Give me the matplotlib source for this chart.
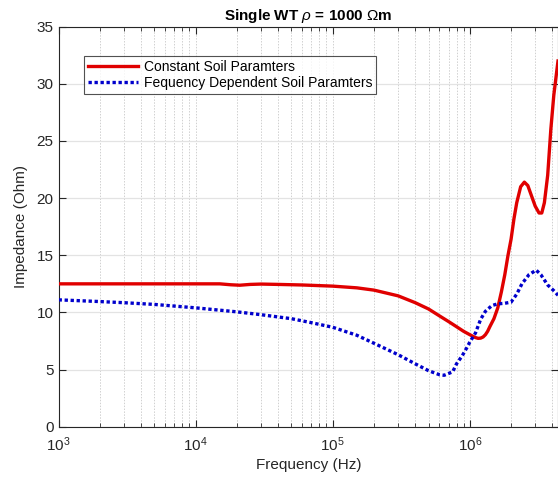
import matplotlib
matplotlib.use("Agg")
import matplotlib.pyplot as plt
from matplotlib.ticker import LogLocator, FixedLocator, NullFormatter

plt.rcParams['font.family'] = ['Liberation Sans', 'DejaVu Sans']
plt.rcParams['mathtext.fontset'] = 'custom'
plt.rcParams['mathtext.rm'] = 'Liberation Sans'
plt.rcParams['mathtext.it'] = 'Liberation Sans:italic'
plt.rcParams['mathtext.bf'] = 'Liberation Sans:bold'

# ---- data ----
freq_const = [1e3, 2e3, 5e3, 1e4, 1.5e4, 1.8e4, 2.1e4, 2.5e4, 3e4, 4e4, 6e4,
              1e5, 1.5e5, 2e5, 3e5, 4e5, 5e5, 6e5, 7e5, 8e5, 9e5, 1e6, 1.05e6,
              1.1e6, 1.15e6, 1.2e6, 1.25e6, 1.3e6, 1.35e6, 1.4e6, 1.5e6, 1.6e6,
              1.7e6, 1.8e6, 1.9e6, 2.0e6, 2.1e6, 2.2e6, 2.35e6, 2.5e6, 2.65e6,
              2.8e6, 3.0e6, 3.2e6, 3.35e6, 3.5e6, 3.7e6, 3.9e6, 4.1e6, 4.4e6]
z_const = [12.5, 12.5, 12.5, 12.5, 12.5, 12.42, 12.38, 12.45, 12.48, 12.45, 12.4,
           12.3, 12.15, 11.95, 11.45, 10.85, 10.3, 9.7, 9.2, 8.75, 8.35, 8.05, 7.92,
           7.8, 7.73, 7.75, 7.85, 8.05, 8.35, 8.75, 9.45, 10.4,
           11.8, 13.3, 15.0, 16.4, 18.2, 19.6, 21.0, 21.4, 21.1,
           20.3, 19.3, 18.7, 18.7, 19.6, 22.0, 26.0, 29.0, 32.0]

freq_fd = [1e3, 2e3, 3e3, 5e3, 1e4, 2e4, 3e4, 5e4, 7e4, 1e5, 1.5e5, 2e5, 3e5,
           4e5, 5e5, 6e5, 6.5e5, 7.5e5, 8e5, 8.8e5, 9.5e5, 1.0e6, 1.1e6, 1.2e6,
           1.3e6, 1.45e6, 1.6e6, 1.8e6, 2.0e6, 2.2e6, 2.4e6, 2.7e6, 3.05e6,
           3.3e6, 3.7e6, 4.1e6, 4.4e6]
z_fd = [11.1, 10.95, 10.85, 10.7, 10.4, 10.05, 9.8, 9.45, 9.1, 8.7, 8.0, 7.3, 6.3,
        5.5, 4.9, 4.55, 4.5, 4.8, 5.5, 6.2, 6.9, 7.4, 8.2, 9.4,
        10.1, 10.6, 10.75, 10.8, 10.9, 11.6, 12.5, 13.3, 13.7,
        13.3, 12.4, 11.9, 11.5]

y_ticks = [0, 5, 10, 15, 20, 25, 30, 35]
x_ticks = [1e3, 1e4, 1e5, 1e6]
labels = ['Constant Soil Paramters', 'Fequency Dependent Soil Paramters']

fig = plt.figure(figsize=(5.58, 4.84), dpi=100)
ax = fig.add_axes([0.105, 0.1184, 0.895, 0.8264])

axc = '#262626'
ax.plot(freq_const, z_const, color='#e00000', lw=2.4, label=labels[0],
        solid_joinstyle='round', zorder=3)
ax.plot(freq_fd, z_fd, color='#0000cc', lw=2.4, linestyle=(0, (1, 0.8)),
        dash_capstyle='butt', label=labels[1], zorder=3)

ax.set_xscale('log')
ax.set_xlim(1e3, 4.4e6)
ax.set_ylim(0, 35)
ax.set_yticks(y_ticks)
ax.xaxis.set_major_locator(FixedLocator(x_ticks))
ax.xaxis.set_minor_locator(LogLocator(base=10, subs=range(2, 10), numticks=20))
ax.xaxis.set_minor_formatter(NullFormatter())

ax.grid(True, which='major', axis='y', color='#e3e3e3', lw=0.9, linestyle='-')
ax.grid(True, which='both', axis='x', color='#d0d0d0', lw=0.7, linestyle=(0, (1.5, 1.5)))
ax.set_axisbelow(True)

ax.tick_params(which='both', direction='in', top=True, right=True, colors=axc,
               labelsize=11, labelcolor=axc)
ax.tick_params(which='major', length=5, width=0.8)
ax.tick_params(which='minor', length=3, width=0.6)
ax.tick_params(axis='x', pad=6)
for s in ax.spines.values():
    s.set_color(axc)
    s.set_linewidth(0.8)

ax.set_xlabel('Frequency (Hz)', fontsize=11, color=axc, labelpad=3)
ax.set_ylabel('Impedance (Ohm)', fontsize=11, color=axc, labelpad=6)
ax.set_title(r'Single WT $\rho$ = 1000 $\Omega$m', fontsize=11, fontweight='bold',
             color='black', pad=5)

leg = ax.legend(loc='upper left', bbox_to_anchor=(0.051, 0.9275), borderaxespad=0,
                fontsize=10, frameon=True, fancybox=False, handlelength=3.6,
                handletextpad=0.4, borderpad=0.3, labelspacing=0.15)
leg.get_frame().set_edgecolor(axc)
leg.get_frame().set_linewidth(0.8)

fig.savefig('out.png', dpi=100)
